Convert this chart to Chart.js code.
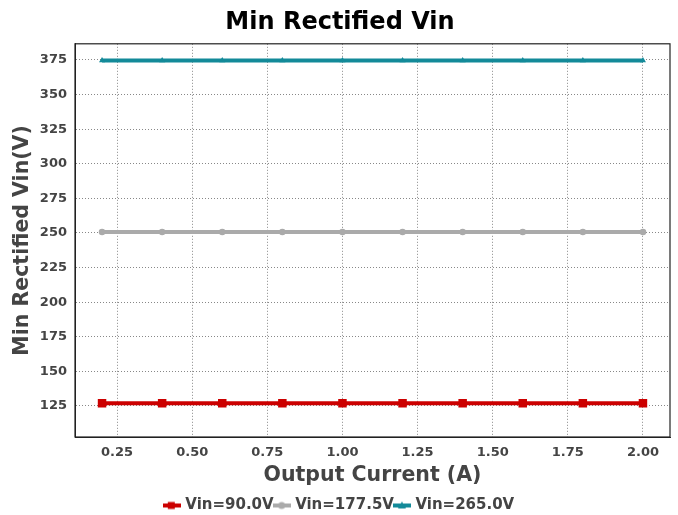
<!DOCTYPE html>
<html><head><meta charset="utf-8">
<script src="https://cdn.jsdelivr.net/npm/chart.js@4/dist/chart.umd.min.js"></script>
<style>html,body{margin:0;padding:0;background:#fff}#w{width:678px;height:515px}</style>
</head><body><div id="w"><canvas id="c" width="678" height="515"></canvas></div>
<script>
const currents = [0.2,0.4,0.6,0.8,1.0,1.2,1.4,1.6,1.8,2.0];
const vin90 = [127,127,127,127,127,127,127,127,127,127];
const vin177 = [250.7,250.7,250.7,250.7,250.7,250.7,250.7,250.7,250.7,250.7];
const vin265 = [374.6,374.6,374.6,374.6,374.6,374.6,374.6,374.6,374.6,374.6];
const seriesNames = ['Vin=90.0V','Vin=177.5V','Vin=265.0V'];
const xTicks = [0.25,0.5,0.75,1.0,1.25,1.5,1.75,2.0];
const yTicks = [125,150,175,200,225,250,275,300,325,350,375];

const colors = ['#cc0000','#aaaaaa','#138a99'];
const styles = ['rect','circle','triangle'];
const radii = [6,3.3,3.5];

function legendIcon(color, style){
  const cv = document.createElement('canvas');
  cv.width = 18; cv.height = 10;
  const g = cv.getContext('2d');
  g.strokeStyle = color; g.fillStyle = color; g.lineWidth = 4;
  g.beginPath(); g.moveTo(0,5); g.lineTo(18,5); g.stroke();
  if(style==='rect'){ g.fillRect(5,1.5,7,7); }
  else if(style==='circle'){ g.beginPath(); g.arc(9,5,3.5,0,Math.PI*2); g.fill(); }
  else { g.beginPath(); g.moveTo(9,1); g.lineTo(13,8); g.lineTo(5,8); g.closePath(); g.fill(); }
  return cv;
}

const frame = {
  id:'frame',
  afterLayout(chart){
    const lg = chart.legend;
    if(lg){ const d = 496 - lg.top; lg.top += d; lg.bottom += d; }
  },
  afterDatasetsDraw(chart){
    const a = chart.chartArea, ctx = chart.ctx;
    ctx.save(); ctx.strokeStyle='#222'; ctx.lineWidth=1.2;
    ctx.strokeRect(a.left, a.top, a.right-a.left, a.bottom-a.top);
    ctx.restore();
  }
};

const toXY = arr => arr.map((v,i)=>({x:currents[i], y:v}));
const dsData = [vin90, vin177, vin265];

new Chart(document.getElementById('c'), {
  type:'line',
  data:{ datasets: dsData.map((d,i)=>({
    label: seriesNames[i], data: toXY(d),
    borderColor: colors[i], backgroundColor: colors[i],
    borderWidth: 4, pointStyle: styles[i], pointRadius: radii[i],
    pointBorderWidth: 0, pointHoverRadius: radii[i], tension:0, fill:false
  }))},
  options:{
    responsive:false, animation:false,
    layout:{padding:{left:10,right:8,top:0,bottom:0}},
    plugins:{
      title:{display:true, text:'Min Rectified Vin', color:'#000',
        font:{family:'DejaVu Sans', size:24, weight:'bold'}, padding:{top:8,bottom:7}},
      legend:{position:'bottom',
        labels:{color:'#444', font:{family:'DejaVu Sans', size:15, weight:'bold'},
          usePointStyle:true, pointStyleWidth:12, boxWidth:12, boxHeight:10, padding:2,
          generateLabels(chart){
            return chart.data.datasets.map((ds,i)=>({
              text: ds.label, fillStyle: colors[i], strokeStyle: colors[i],
              fontColor:'#444', pointStyle: legendIcon(colors[i], styles[i]),
              datasetIndex:i, hidden:false, lineWidth:0
            }));
          }}},
      tooltip:{enabled:false}
    },
    scales:{
      x:{type:'linear', min:0.11, max:2.09,
        afterBuildTicks(s){ s.ticks = xTicks.map(v=>({value:v})); },
        afterFit(s){ s.height = 78 - s.chart.legend.height; },
        ticks:{color:'#444', font:{family:'DejaVu Sans', size:13, weight:'bold'},
          padding:8, callback:v=>Number(v).toFixed(2), maxRotation:0, autoSkip:false},
        grid:{color:'#888', lineWidth:1, drawTicks:false},
        border:{display:true, color:'#222', dash:[1,2]},
        title:{display:true, text:'Output Current (A)', color:'#444',
          font:{family:'DejaVu Sans', size:20.5, weight:'bold'}, padding:{top:3,bottom:0}}
      },
      y:{type:'linear', min:102.6, max:386.7,
        afterBuildTicks(s){ s.ticks = yTicks.map(v=>({value:v})); },
        afterFit(s){ s.width = 65; },
        ticks:{color:'#444', font:{family:'DejaVu Sans', size:13, weight:'bold'},
          padding:8, autoSkip:false},
        grid:{color:'#888', lineWidth:1, drawTicks:false},
        border:{display:true, color:'#222', dash:[1,2]},
        title:{display:true, text:'Min Rectified Vin(V)', color:'#444',
          font:{family:'DejaVu Sans', size:20.5, weight:'bold'}, padding:{top:0,bottom:6}}
      }
    }
  },
  plugins:[frame]
});
</script></body></html>
